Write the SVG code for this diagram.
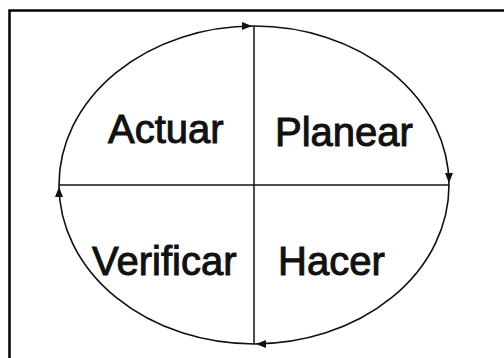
<svg xmlns="http://www.w3.org/2000/svg" width="504" height="358" viewBox="0 0 504 358">
<style>
.frame{fill:none;stroke:#000;stroke-width:2.5}
.arc{fill:none;stroke:#111;stroke-width:1.6;marker-end:url(#ah)}
.axis{fill:none;stroke:#111;stroke-width:1.5}
.lbl{font-family:"Liberation Sans",Arial,sans-serif;font-size:40px;fill:#111;stroke:#111;stroke-width:1}
</style>
<defs>
<marker id="ah" markerUnits="userSpaceOnUse" markerWidth="10" markerHeight="8" refX="12" refY="4" orient="auto" overflow="visible">
<path d="M0,0 L10,4 L0,8 Z" fill="#111"/>
</marker>
</defs>
<rect width="504" height="358" fill="#fff"/>
<path class="frame" d="M9.5,360 V10.5 H506"/>
<g id="connectors">
<path class="arc" d="M59,185 A195,159 0 0 1 254,26"/>
<path class="arc" d="M254,26 A195,159 0 0 1 449,185"/>
<path class="arc" d="M449,185 A195,159 0 0 1 254,344"/>
<path class="arc" d="M254,344 A195,159 0 0 1 59,185"/>
<line class="axis" x1="254" y1="26" x2="254" y2="344"/>
<line class="axis" x1="59" y1="185" x2="449" y2="185"/>
</g>
<g id="actuar"><text class="lbl" x="108" y="143">Actuar</text></g>
<g id="planear"><text class="lbl" x="275" y="146">Planear</text></g>
<g id="verificar"><text class="lbl" x="92" y="275">Verificar</text></g>
<g id="hacer"><text class="lbl" x="278" y="275">Hacer</text></g>
</svg>
